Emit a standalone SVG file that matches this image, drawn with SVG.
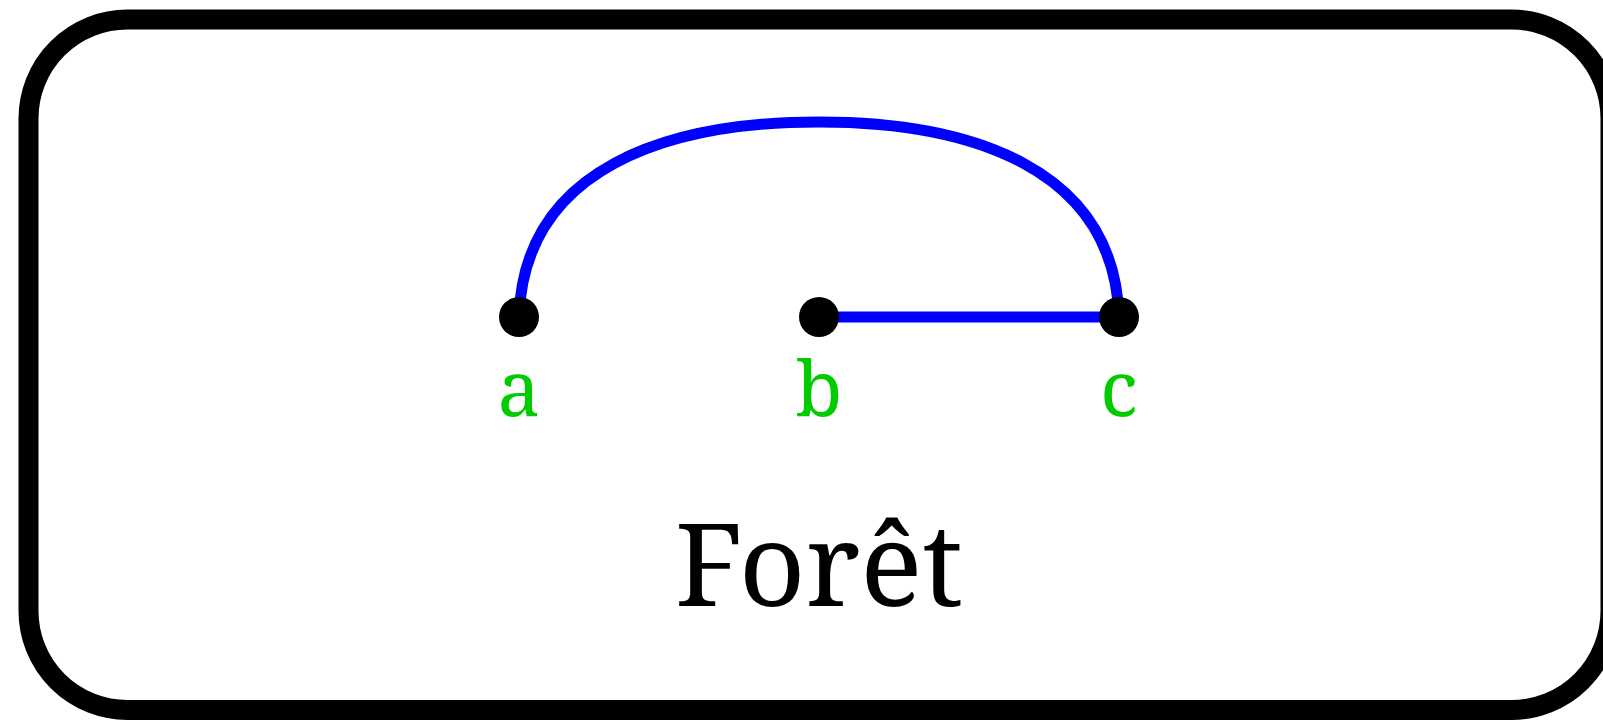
<svg xmlns="http://www.w3.org/2000/svg" width="1603" height="721" viewBox="0 0 1603 721">
<style>
.frame{fill:#fff;stroke:#000;stroke-width:20}
.edge{fill:none;stroke:#0000ff;stroke-width:11}
.node{fill:#000}
.lbl{font-family:"Noto Serif","DejaVu Serif","Liberation Serif",serif;font-size:76px;fill:#00cc00;text-anchor:middle}
.title{font-family:"Noto Serif","DejaVu Serif","Liberation Serif",serif;font-size:116px;fill:#000;text-anchor:middle}
</style>
<rect width="1603" height="721" fill="#fff"/>
<g id="frame">
<rect class="frame" x="28.5" y="19.5" width="1582" height="690.5" rx="99" ry="99"/>
<text class="title" x="819" y="606">Forêt</text>
</g>
<g id="connectors">
<path class="edge" d="M519 317 C524 167 669 122 819 122 C969 122 1114 167 1119 317"/>
<path class="edge" d="M819 317 L1119 317"/>
</g>
<g id="node-a">
<circle class="node" cx="519" cy="317" r="20"/>
<text class="lbl" x="519" y="416">a</text>
</g>
<g id="node-b">
<circle class="node" cx="819" cy="317" r="20"/>
<text class="lbl" x="819" y="416">b</text>
</g>
<g id="node-c">
<circle class="node" cx="1119" cy="317" r="20"/>
<text class="lbl" x="1119" y="416">c</text>
</g>
</svg>
